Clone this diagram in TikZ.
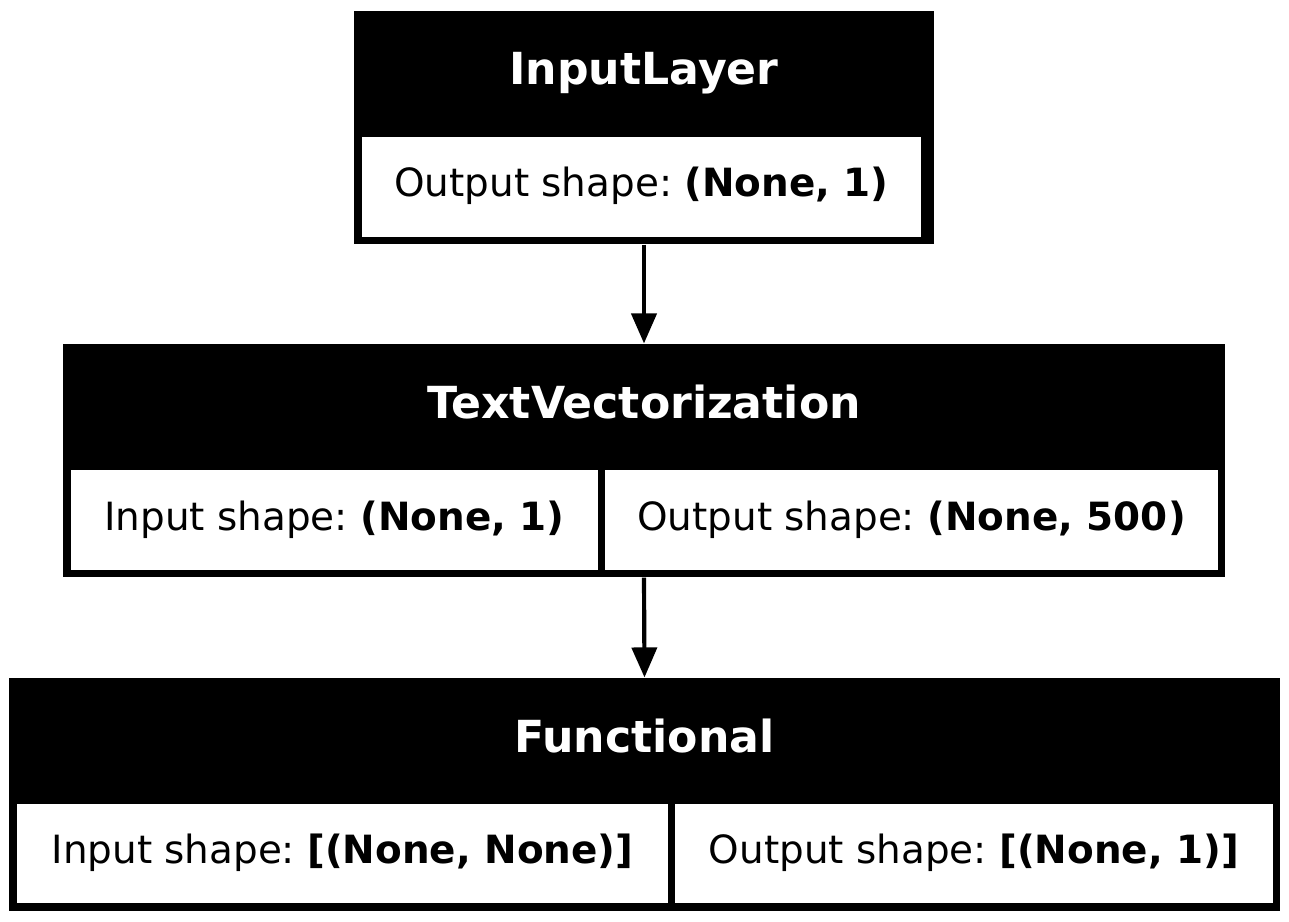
\documentclass[tikz,border=0pt]{standalone}
\usepackage{fontspec}
\setmainfont{DejaVu Sans}
\usetikzlibrary{arrows.meta,fit}
\frenchspacing
\tikzset{
  outerbox/.style={fit={#1}, inner sep=0pt, fill=black, draw=none, rectangle},
  cellbox/.style={fit={#1}, inner sep=0pt, fill=white, draw=none, rectangle},
  titletext/.style={anchor=base, text=white, font=\fontsize{15.9pt}{18pt}\selectfont\bfseries, inner sep=0pt},
  celltext/.style={anchor=base, text=black, font=\fontsize{14pt}{16pt}\selectfont\frenchspacing, inner sep=0pt},
  conn/.style={line width=1.5pt, -{Triangle[length=10.8pt,width=9pt]}}
}
\begin{document}
\begin{tikzpicture}[x=0.36pt,y=-0.36pt]
\useasboundingbox (0,0) rectangle (1289,922);
% InputLayer
\node[outerbox={(354,11) (934,244)}] (b1) {};
\node[cellbox={(362,137) (921,237)}] (b1c) {};
\node[titletext] (b1t) at (644,85) {InputLayer};
\node[celltext] (b1o) at (641.5,197) {Output shape: \textbf{(None, 1)}};
% TextVectorization
\node[outerbox={(63,344) (1225,577)}] (b2) {};
\node[cellbox={(71,470) (598,570)}] (b2l) {};
\node[cellbox={(605,470) (1218,570)}] (b2r) {};
\node[titletext] (b2t) at (644,418) {TextVectorization};
\node[celltext] (b2i) at (334.5,530) {Input shape: \textbf{(None, 1)}};
\node[celltext] (b2o) at (911.5,530) {Output shape: \textbf{(None, 500)}};
% Functional
\node[outerbox={(9,678) (1280,911)}] (b3) {};
\node[cellbox={(17,804) (668,903)}] (b3l) {};
\node[cellbox={(675,804) (1273,903)}] (b3r) {};
\node[titletext] (b3t) at (644.5,752) {Functional};
\node[celltext] (b3i) at (342.5,863) {Input shape: \textbf{[(None, None)]}};
\node[celltext] (b3o) at (974,863) {Output shape: \textbf{[(None, 1)]}};
% connectors
\draw[conn] (b1.south) -- (b2.north);
\draw[conn] (b2.south) -- (b3.north);
\end{tikzpicture}
\end{document}
